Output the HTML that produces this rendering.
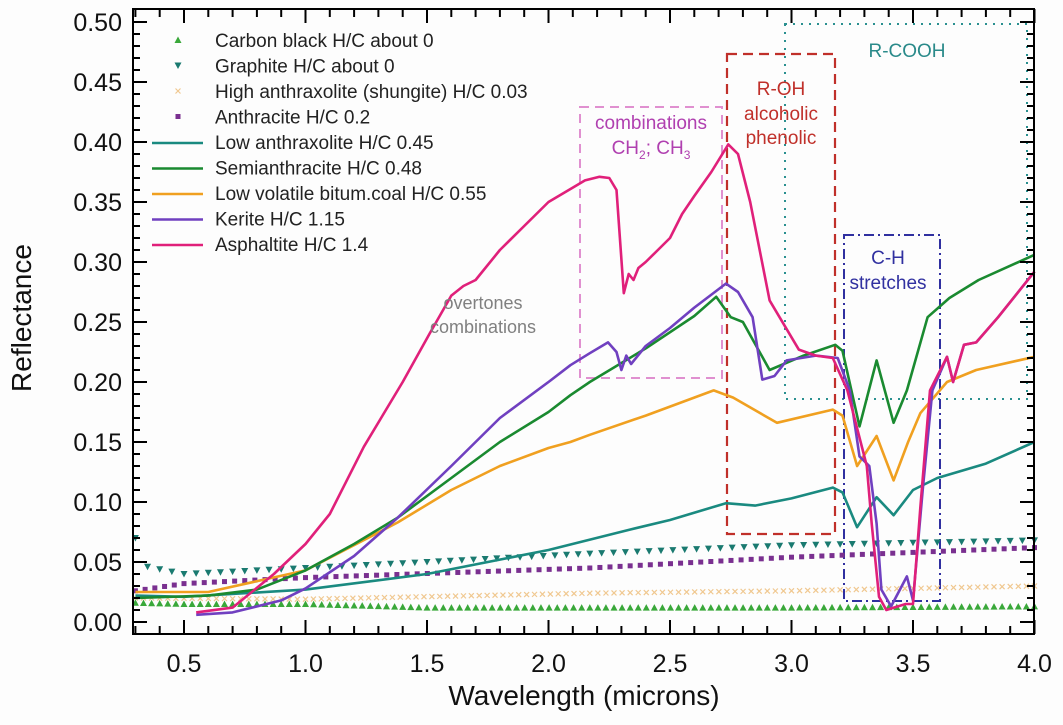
<!DOCTYPE html>
<html><head><meta charset="utf-8"><style>
body{margin:0;background:#fff;}
svg{display:block;font-family:"Liberation Sans",sans-serif;}
</style></head><body>
<svg id="chart" width="1063" height="725" viewBox="0 0 1063 725" xmlns="http://www.w3.org/2000/svg">
<rect width="1063" height="725" fill="#fdfdfd"/>
<g id="boxes">
<rect x="785" y="24" width="242" height="375" fill="none" stroke="#2a9090" stroke-width="2" stroke-dasharray="2,6"/>
<rect x="727" y="54" width="108" height="480" fill="none" stroke="#c0302a" stroke-width="2.2" stroke-dasharray="10,6"/>
<rect x="580" y="107" width="142" height="271" fill="none" stroke="#e090d0" stroke-width="2" stroke-dasharray="9,6"/>
<rect x="844" y="235" width="96" height="366" fill="none" stroke="#3030a0" stroke-width="2" stroke-dasharray="10,4,2,4"/>
</g>
<g id="series"></g>
<g id="axes"></g>
<g font-size="19">
<text x="907" y="57" text-anchor="middle" fill="#2a8a8a">R-COOH</text>
<text x="781" y="95" text-anchor="middle" fill="#c0302a">R-OH</text>
<text x="781" y="120" text-anchor="middle" fill="#c0302a">alcoholic</text>
<text x="781" y="144" text-anchor="middle" fill="#c0302a">phenolic</text>
<text x="651" y="129" text-anchor="middle" fill="#b040b0">combinations</text>
<text x="651" y="154" text-anchor="middle" fill="#b040b0">CH<tspan font-size="12" dy="5">2</tspan><tspan dy="-5">; CH</tspan><tspan font-size="12" dy="5">3</tspan></text>
<text x="888" y="264" text-anchor="middle" fill="#3030a0">C-H</text>
<text x="888" y="289" text-anchor="middle" fill="#3030a0">stretches</text>
<text x="483" y="309" text-anchor="middle" fill="#808080" font-size="18">overtones</text>
<text x="483" y="333" text-anchor="middle" fill="#808080" font-size="18">combinations</text>
</g>
<g id="legend"></g>
<text transform="translate(31,318) rotate(-90)" text-anchor="middle" font-size="28" fill="#111">Reflectance</text>
<text x="584" y="705" text-anchor="middle" font-size="28" fill="#111">Wavelength (microns)</text>
</svg>
<script>
// ---- data ----
const pinkX=[0.55,0.7,0.87,1.0,1.1,1.24,1.4,1.51,1.6,1.65,1.7,1.8,1.9,2.0,2.1,2.15,2.21,2.25,2.28,2.31,2.33,2.35,2.37,2.4,2.45,2.5,2.55,2.6,2.67,2.74,2.78,2.83,2.91,3.03,3.1,3.17,3.23,3.31,3.33,3.36,3.39,3.47,3.5,3.53,3.57,3.64,3.665,3.71,3.76,3.85,4.0];
const pinkY=[0.008,0.012,0.04,0.065,0.09,0.146,0.2,0.24,0.272,0.28,0.285,0.31,0.33,0.35,0.362,0.368,0.371,0.37,0.36,0.274,0.29,0.285,0.295,0.3,0.31,0.32,0.34,0.355,0.375,0.398,0.39,0.35,0.268,0.227,0.222,0.22,0.193,0.13,0.082,0.021,0.01,0.015,0.015,0.095,0.193,0.221,0.2,0.231,0.233,0.254,0.292];
const purpX=[0.55,0.7,0.9,1.0,1.2,1.38,1.6,1.8,2.0,2.09,2.17,2.245,2.28,2.30,2.32,2.34,2.4,2.5,2.6,2.73,2.78,2.84,2.88,2.93,2.98,3.1,3.19,3.24,3.28,3.32,3.35,3.37,3.41,3.475,3.5,3.54,3.58,3.64,3.665,3.71,3.76,3.85,4.0];
const purpY=[0.006,0.008,0.018,0.028,0.055,0.087,0.13,0.17,0.2,0.214,0.224,0.233,0.225,0.21,0.222,0.215,0.23,0.245,0.262,0.282,0.275,0.254,0.202,0.205,0.218,0.222,0.22,0.193,0.138,0.13,0.082,0.027,0.013,0.038,0.018,0.11,0.193,0.221,0.2,0.231,0.233,0.254,0.292];
const grnX=[0.3,0.6,0.8,1.0,1.2,1.38,1.6,1.8,2.0,2.09,2.17,2.4,2.6,2.69,2.75,2.8,2.91,3.05,3.18,3.21,3.28,3.35,3.42,3.475,3.56,3.65,3.77,4.0];
const grnY=[0.02,0.022,0.027,0.043,0.065,0.087,0.12,0.15,0.175,0.189,0.2,0.228,0.255,0.271,0.254,0.25,0.21,0.222,0.231,0.226,0.163,0.218,0.166,0.193,0.254,0.27,0.285,0.306];
const orgX=[0.3,0.6,1.0,1.38,1.6,1.8,2.0,2.09,2.17,2.4,2.68,2.76,2.94,3.17,3.21,3.27,3.35,3.42,3.48,3.53,3.64,3.76,4.0];
const orgY=[0.025,0.025,0.043,0.083,0.11,0.13,0.145,0.15,0.156,0.172,0.193,0.187,0.166,0.177,0.172,0.13,0.155,0.118,0.15,0.174,0.2,0.21,0.221];
const tealX=[0.3,0.5,1.0,1.5,2.0,2.335,2.5,2.73,2.85,3.0,3.17,3.21,3.27,3.35,3.42,3.5,3.6,3.8,4.0];
const tealY=[0.022,0.021,0.027,0.04,0.06,0.077,0.085,0.099,0.097,0.103,0.112,0.108,0.079,0.104,0.089,0.11,0.12,0.132,0.15];
const graphX=[0.3,0.35,0.5,0.7,1.0,1.5,2.17,3.0,4.0];
const graphY=[0.07,0.046,0.04,0.042,0.045,0.05,0.057,0.064,0.068];
const anthX=[0.3,0.5,1.0,2.17,3.0,4.0];
const anthY=[0.026,0.032,0.037,0.045,0.054,0.062];
const shunX=[0.3,1.0,2.17,3.0,4.0];
const shunY=[0.02,0.019,0.024,0.026,0.03];
const cbX=[0.3,0.5,1.0,1.5,2.17,3.0,4.0];
const cbY=[0.016,0.015,0.015,0.012,0.012,0.012,0.013];
const xTicks=[0.5,1.0,1.5,2.0,2.5,3.0,3.5,4.0];
const xTickLabels=["0.5","1.0","1.5","2.0","2.5","3.0","3.5","4.0"];
const yTicks=[0,0.05,0.1,0.15,0.2,0.25,0.3,0.35,0.4,0.45,0.5];
const yTickLabels=["0.00","0.05","0.10","0.15","0.20","0.25","0.30","0.35","0.40","0.45","0.50"];
const legendLabels=["Carbon black H/C about 0","Graphite H/C about 0","High anthraxolite (shungite) H/C 0.03","Anthracite H/C 0.2","Low anthraxolite H/C 0.45","Semianthracite H/C 0.48","Low volatile bitum.coal H/C 0.55","Kerite H/C 1.15","Asphaltite H/C 1.4"];

// ---- scales ----
const L=133,R=1034,T=9,B=634;
function X(v){return 184+(v-0.5)*243;}
function Y(v){return 622-v*1200;}
const NS="http://www.w3.org/2000/svg";
function mk(t,a,p){const e=document.createElementNS(NS,t);for(const k in a)e.setAttribute(k,a[k]);p.appendChild(e);return e;}
const ser=document.getElementById('series');
const ax=document.getElementById('axes');
const leg=document.getElementById('legend');

function line(xs,ys,color,name){
  let d='';xs.forEach((x,i)=>{d+=(i?'L':'M')+X(x).toFixed(1)+','+Y(ys[i]).toFixed(1);});
  const p=mk('path',{d:d,fill:'none',stroke:color,'stroke-width':2.6,'stroke-linejoin':'round'},ser);
  
  
}
function marker(kind,cx,cy,color,g){
  let e;
  if(kind==='up')e=mk('path',{d:`M${cx},${cy-3.5}L${cx+3.5},${cy+3}L${cx-3.5},${cy+3}Z`,fill:color},g);
  else if(kind==='down')e=mk('path',{d:`M${cx},${cy+3.5}L${cx+3.5},${cy-3}L${cx-3.5},${cy-3}Z`,fill:color},g);
  else if(kind==='sq')e=mk('rect',{x:cx-2.5,y:cy-2.5,width:5,height:5,fill:color},g);
  else e=mk('path',{d:`M${cx-2.5},${cy-2.5}L${cx+2.5},${cy+2.5}M${cx+2.5},${cy-2.5}L${cx-2.5},${cy+2.5}`,stroke:color,'stroke-width':1.2},g);
  return e;
}
function markers(xs,ys,kind,color,name,step){
  const g=mk('g',{},ser);
  
  
  for(let i=0;i<xs.length-1;i++){
    const x0=X(xs[i]),x1=X(xs[i+1]),y0=Y(ys[i]),y1=Y(ys[i+1]);
    const n=Math.max(1,Math.round((x1-x0)/step));
    for(let j=0;j<n;j++){const t=j/n;marker(kind,x0+(x1-x0)*t,y0+(y1-y0)*t,color,g);}
  }
  marker(kind,X(xs[xs.length-1]),Y(ys[ys.length-1]),color,g);
}
markers(shunX,shunY,'x','#f0c890','shungite-markers',8);
markers(cbX,cbY,'up','#3aa83a','carbon-black-markers',8.2);
markers(anthX,anthY,'sq','#7a3090','anthracite-markers',10);
markers(graphX,graphY,'down','#1a7a70','graphite-markers',12);
line(tealX,tealY,'#1a8a80','low-anthraxolite-line');
line(orgX,orgY,'#f0a020','low-volatile-coal-line');
line(grnX,grnY,'#1a8a30','semianthracite-line');
line(purpX,purpY,'#7040c0','kerite-line');
line(pinkX,pinkY,'#e0207a','asphaltite-line');

// axes
const frame=mk('rect',{x:L,y:T,width:R-L,height:B-T,fill:'none',stroke:'#000','stroke-width':2},ax);


for(let v=0.3;v<=4.001;v+=0.1){
  const x=X(v);const major=xTicks.some(t=>Math.abs(t-v)<0.001);const len=major?14:8;
  mk('line',{x1:x,x2:x,y1:B,y2:B-len,stroke:'#000','stroke-width':2},ax);
  mk('line',{x1:x,x2:x,y1:T,y2:T+len,stroke:'#000','stroke-width':2},ax);
}
for(let k=-1;k<=50;k++){
  const v=k*0.01;const y=Y(v);if(y>B||y<T)continue;const major=k%5===0;const len=major?14:7;
  mk('line',{x1:L,x2:L+len,y1:y,y2:y,stroke:'#000','stroke-width':2},ax);
  mk('line',{x1:R,x2:R-len,y1:y,y2:y,stroke:'#000','stroke-width':2},ax);
}
xTicks.forEach((v,i)=>{
  const t=mk('text',{x:X(v),y:672,'text-anchor':'middle','font-size':25,fill:'#111'},ax);
  t.textContent=xTickLabels[i];
  
  
});
yTicks.forEach((v,i)=>{
  const t=mk('text',{x:122,y:Y(v)+9,'text-anchor':'end','font-size':25,fill:'#111'},ax);
  t.textContent=yTickLabels[i];
  
  
});
// legend
const legKinds=[['up','#3aa83a'],['down','#1a7a70'],['x','#f0c890'],['sq','#7a3090'],['l','#1a8a80'],['l','#1a8a30'],['l','#f0a020'],['l','#7040c0'],['l','#e0207a']];
legendLabels.forEach((s,i)=>{
  const y=39+i*25.5;
  const g=mk('g',{},leg);
  
  
  const k=legKinds[i];
  if(k[0]==='l')mk('line',{x1:152,x2:203,y1:y+2,y2:y+2,stroke:k[1],'stroke-width':2.6},g);
  else marker(k[0],178,y+1,k[1],g);
  const t=mk('text',{x:215,y:y+8,'font-size':19,fill:'#222'},g);
  t.textContent=s;
});
</script>
</body></html>
